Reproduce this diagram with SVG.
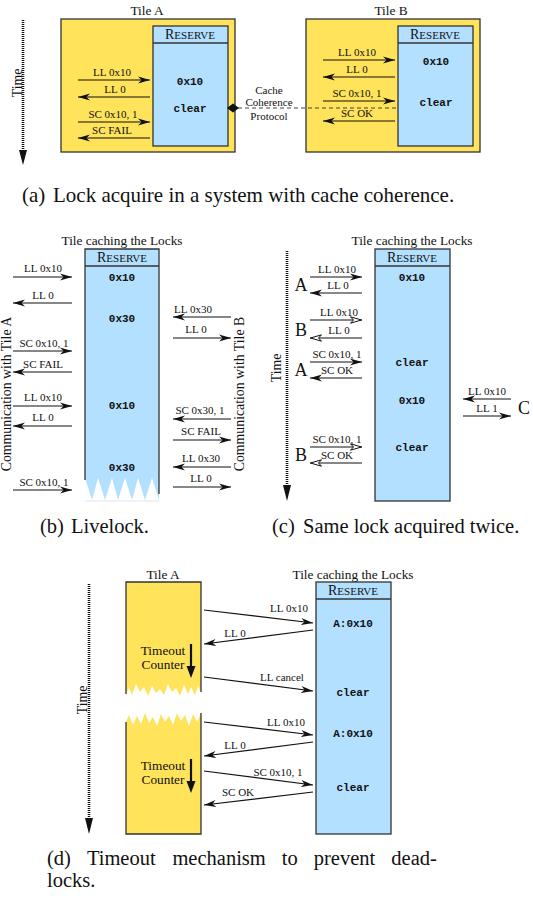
<svg xmlns="http://www.w3.org/2000/svg" width="533" height="899" viewBox="0 0 533 899">
<style>
text { font-family: "Liberation Serif", "Times New Roman", serif; fill: #111; }
.lbl { font-size: 11px; text-anchor: middle; }
.ttl { font-size: 13.3px; text-anchor: middle; }
.cap { font-size: 20.5px; }
.capa { font-size: 21px; }
.big { font-size: 18px; text-anchor: middle; }
.rot { font-size: 13.8px; text-anchor: middle; }
.mono { font-family: "Liberation Mono", "Courier New", monospace; font-weight: bold; font-size: 11px; text-anchor: middle; }
.yel { fill: #FFE35B; stroke: #333; stroke-width: 1.3; }
.blu { fill: #B3E0FF; stroke: #333; stroke-width: 1.3; }
.yfill { fill: #FFE35B; stroke: none; }
.bfill { fill: #B3E0FF; stroke: none; }
.edge { fill: none; stroke: #333; stroke-width: 1.3; }
.arr { stroke: #111; stroke-width: 1.2; fill: none; marker-end: url(#ah); }
.open { marker-end: url(#aho); }
.time { stroke: #111; stroke-width: 2.6; stroke-dasharray: 1 1; fill: none; }
.head { fill: #111; stroke: none; }
</style>
<defs>
<marker id="ah" markerUnits="userSpaceOnUse" viewBox="0 0 12 8" markerWidth="12" markerHeight="8" refX="12" refY="4" orient="auto">
<path d="M0,0.5 L12,4 L0,7.5 L3.5,4 Z" fill="#111"/>
</marker>
<marker id="aho" markerUnits="userSpaceOnUse" viewBox="0 0 12 8" markerWidth="12" markerHeight="8" refX="12" refY="4" orient="auto">
<path d="M0.5,0.8 L11.5,4 L0.5,7.2 L3.5,4 Z" fill="#fff" stroke="#111" stroke-width="1"/>
</marker>
</defs>

<!-- ================= Panel (a) ================= -->
<g id="a-time">
<line class="time" x1="23" y1="20" x2="23" y2="151"/>
<polygon class="head" points="19,150 27,150 23,165"/>
<text class="rot" transform="translate(22,83) rotate(-90)">Time</text>
</g>
<g id="a-tileA">
<text class="ttl" x="147" y="15">Tile A</text>
<rect class="yel" x="61" y="19" width="174" height="133"/>
<rect class="blu" x="153" y="26" width="75" height="120"/>
<line class="edge" x1="153" y1="43" x2="228" y2="43"/>
<text class="ttl" x="190" y="39"><tspan font-size="14">R</tspan><tspan font-size="11">ESERVE</tspan></text>
<text class="mono" x="190" y="85">0x10</text>
<text class="mono" x="190" y="112">clear</text>
</g>
<g id="a-tileB">
<text class="ttl" x="391" y="15">Tile B</text>
<rect class="yel" x="306" y="19" width="174" height="133"/>
<rect class="blu" x="398" y="26" width="75" height="120"/>
<line class="edge" x1="398" y1="43" x2="473" y2="43"/>
<text class="ttl" x="435" y="39"><tspan font-size="14">R</tspan><tspan font-size="11">ESERVE</tspan></text>
<text class="mono" x="436" y="65">0x10</text>
<text class="mono" x="436" y="106">clear</text>
</g>
<g id="a-protocol">
<text class="lbl" x="269" y="94">Cache</text>
<text class="lbl" x="269" y="105.5">Coherence</text>
<text class="lbl" x="269" y="119.5">Protocol</text>
</g>
<g id="a-connectors">
<line class="arr" x1="78" y1="80" x2="150" y2="80"/>
<line class="arr" x1="150" y1="97" x2="78" y2="97"/>
<line class="arr" x1="78" y1="122" x2="150" y2="122"/>
<line class="arr" x1="150" y1="138" x2="78" y2="138"/>
<line class="arr" x1="323" y1="60" x2="395" y2="60"/>
<line class="arr" x1="395" y1="77" x2="323" y2="77"/>
<line class="arr" x1="323" y1="101" x2="395" y2="101"/>
<line class="arr" x1="395" y1="121" x2="323" y2="121"/>
<line x1="238" y1="108" x2="396" y2="108" stroke="#444" stroke-width="1.1" stroke-dasharray="4 3"/>
<polygon points="227,108 233,103.5 239,108 233,112.5" fill="#111"/>
<text class="lbl" x="112" y="76">LL 0x10</text>
<text class="lbl" x="115" y="93">LL 0</text>
<text class="lbl" x="113" y="118">SC 0x10, 1</text>
<text class="lbl" x="112" y="134">SC FAIL</text>
<text class="lbl" x="357" y="56">LL 0x10</text>
<text class="lbl" x="357" y="73">LL 0</text>
<text class="lbl" x="357" y="97">SC 0x10, 1</text>
<text class="lbl" x="357" y="117">SC OK</text>
</g>
<text class="capa" x="22" y="202">(a)<tspan x="53">Lock acquire in a system with cache coherence.</tspan></text>

<!-- ================= Panel (b) ================= -->
<g id="b-reserve">
<text class="ttl" x="122" y="245">Tile caching the Locks</text>
<path class="bfill" d="M85,249 H159 V500 L152,478 L145,500 L138,478 L132,500 L125,478 L118,500 L112,478 L105,500 L98,478 L92,500 L85,478 Z"/>
<path class="edge" d="M85,480 V249 H159 V494"/>
<line x1="85" y1="501" x2="159" y2="501" stroke="#ddd" stroke-width="0.8"/>
<line class="edge" x1="85" y1="266" x2="159" y2="266"/>
<text class="ttl" x="122" y="262"><tspan font-size="14">R</tspan><tspan font-size="11">ESERVE</tspan></text>
<text class="mono" x="122" y="281">0x10</text>
<text class="mono" x="122" y="322">0x30</text>
<text class="mono" x="122" y="409">0x10</text>
<text class="mono" x="122" y="471">0x30</text>
</g>
<g id="b-sides">
<text class="rot" transform="translate(11,394) rotate(-90)">Communication with Tile A</text>
<text class="rot" transform="translate(244,394) rotate(-90)">Communication with Tile B</text>
</g>
<g id="b-connectors">
<line class="arr" x1="13" y1="277" x2="72" y2="277"/>
<line class="arr" x1="72" y1="303" x2="13" y2="303"/>
<line class="arr" x1="13" y1="351" x2="72" y2="351"/>
<line class="arr" x1="72" y1="372" x2="13" y2="372"/>
<line class="arr" x1="13" y1="406" x2="72" y2="406"/>
<line class="arr" x1="72" y1="426" x2="13" y2="426"/>
<line class="arr" x1="13" y1="490" x2="72" y2="490"/>
<line class="arr" x1="231" y1="317" x2="173" y2="317"/>
<line class="arr" x1="173" y1="338" x2="231" y2="338"/>
<line class="arr" x1="231" y1="419" x2="173" y2="419"/>
<line class="arr" x1="173" y1="440" x2="231" y2="440"/>
<line class="arr" x1="231" y1="467" x2="173" y2="467"/>
<line class="arr" x1="173" y1="487" x2="231" y2="487"/>
<text class="lbl" x="43" y="272">LL 0x10</text>
<text class="lbl" x="43" y="299">LL 0</text>
<text class="lbl" x="44" y="347">SC 0x10, 1</text>
<text class="lbl" x="43" y="368">SC FAIL</text>
<text class="lbl" x="43" y="401">LL 0x10</text>
<text class="lbl" x="43" y="421">LL 0</text>
<text class="lbl" x="44" y="486">SC 0x10, 1</text>
<text class="lbl" x="193" y="313">LL 0x30</text>
<text class="lbl" x="196" y="333">LL 0</text>
<text class="lbl" x="200" y="414">SC 0x30, 1</text>
<text class="lbl" x="201" y="435">SC FAIL</text>
<text class="lbl" x="201" y="462">LL 0x30</text>
<text class="lbl" x="201" y="482">LL 0</text>
</g>
<text class="cap" x="40" y="533">(b)<tspan x="71">Livelock.</tspan></text>

<!-- ================= Panel (c) ================= -->
<g id="c-time">
<line class="time" x1="287" y1="251" x2="287" y2="487"/>
<polygon class="head" points="283,485 291,485 287,501"/>
<text class="rot" transform="translate(281,368) rotate(-90)">Time</text>
</g>
<g id="c-reserve">
<text class="ttl" x="412" y="245">Tile caching the Locks</text>
<rect class="blu" x="375" y="249" width="75" height="252"/>
<line class="edge" x1="375" y1="266" x2="450" y2="266"/>
<text class="ttl" x="412" y="262"><tspan font-size="14">R</tspan><tspan font-size="11">ESERVE</tspan></text>
<text class="mono" x="412" y="281">0x10</text>
<text class="mono" x="412" y="366">clear</text>
<text class="mono" x="412" y="404">0x10</text>
<text class="mono" x="412" y="451">clear</text>
</g>
<g id="c-actors">
<text class="big" x="301" y="290.5">A</text>
<text class="big" x="301" y="335.5">B</text>
<text class="big" x="301" y="375.5">A</text>
<text class="big" x="301" y="460.5">B</text>
<text class="big" x="524" y="413.5">C</text>
</g>
<g id="c-connectors">
<line class="arr" x1="310" y1="277" x2="362" y2="277"/>
<line class="arr" x1="362" y1="293" x2="310" y2="293"/>
<line class="arr open" x1="310" y1="320" x2="362" y2="320"/>
<line class="arr open" x1="362" y1="338" x2="310" y2="338"/>
<line class="arr" x1="310" y1="362" x2="362" y2="362"/>
<line class="arr" x1="362" y1="378" x2="310" y2="378"/>
<line class="arr open" x1="310" y1="447" x2="362" y2="447"/>
<line class="arr open" x1="362" y1="463" x2="310" y2="463"/>
<line class="arr" x1="511" y1="399" x2="463" y2="399"/>
<line class="arr" x1="463" y1="416" x2="511" y2="416"/>
<text class="lbl" x="337" y="272.5">LL 0x10</text>
<text class="lbl" x="338" y="289">LL 0</text>
<text class="lbl" x="339" y="316">LL 0x10</text>
<text class="lbl" x="339" y="334">LL 0</text>
<text class="lbl" x="337" y="358">SC 0x10, 1</text>
<text class="lbl" x="337" y="374">SC OK</text>
<text class="lbl" x="337" y="443">SC 0x10, 1</text>
<text class="lbl" x="337" y="459">SC OK</text>
<text class="lbl" x="487" y="395">LL 0x10</text>
<text class="lbl" x="487" y="412">LL 1</text>
</g>
<text class="cap" x="272" y="533">(c)<tspan x="303">Same lock acquired twice.</tspan></text>

<!-- ================= Panel (d) ================= -->
<g id="d-time">
<line class="time" x1="89" y1="584" x2="89" y2="820"/>
<polygon class="head" points="85,818 93,818 89,834"/>
<text class="rot" transform="translate(87,700) rotate(-90)">Time</text>
</g>
<g id="d-tileA">
<text class="ttl" x="163" y="579">Tile A</text>
<path class="yfill" d="M126,582 H201 V692 L198,686 L195,695 L191,687 L188,694 L184,685 L180,696 L176,688 L172,692 L168,684 L164,695 L160,689 L156,693 L152,686 L148,696 L144,687 L140,692 L136,684 L132,695 L129,688 L126,694 Z"/>
<path class="edge" d="M126,694 V582 H201 V692"/>
<path class="yfill" d="M126,722 L129,715 L133,725 L137,716 L141,724 L145,713 L149,723 L153,717 L157,726 L161,714 L165,722 L169,716 L173,725 L177,713 L181,721 L185,715 L189,726 L193,714 L197,722 L201,713 V834 H126 Z"/>
<path class="edge" d="M126,722 V834 H201 V713"/>
<text class="ttl" x="163" y="655" font-size="14">Timeout</text>
<text class="ttl" x="163" y="669" font-size="14">Counter</text>
<line x1="191" y1="644" x2="191" y2="667" stroke="#111" stroke-width="2.2"/>
<polygon class="head" points="186.5,666 195.5,666 191,678"/>
<text class="ttl" x="163" y="770" font-size="14">Timeout</text>
<text class="ttl" x="163" y="784" font-size="14">Counter</text>
<line x1="191" y1="759" x2="191" y2="782" stroke="#111" stroke-width="2.2"/>
<polygon class="head" points="186.5,781 195.5,781 191,793"/>
</g>
<g id="d-reserve">
<text class="ttl" x="353" y="579">Tile caching the Locks</text>
<rect class="blu" x="316" y="582" width="75" height="252"/>
<line class="edge" x1="316" y1="599" x2="391" y2="599"/>
<text class="ttl" x="353" y="595"><tspan font-size="14">R</tspan><tspan font-size="11">ESERVE</tspan></text>
<text class="mono" x="353" y="627">A:0x10</text>
<text class="mono" x="353" y="696">clear</text>
<text class="mono" x="353" y="737">A:0x10</text>
<text class="mono" x="353" y="791">clear</text>
</g>
<g id="d-connectors">
<line class="arr" x1="204" y1="610" x2="313" y2="623"/>
<line class="arr" x1="313" y1="630" x2="204" y2="644"/>
<line class="arr" x1="204" y1="677" x2="313" y2="691"/>
<line class="arr" x1="204" y1="722" x2="313" y2="735"/>
<line class="arr" x1="313" y1="742" x2="204" y2="756"/>
<line class="arr" x1="204" y1="771" x2="313" y2="785"/>
<line class="arr" x1="313" y1="792" x2="204" y2="805"/>
<text class="lbl" x="289" y="612">LL 0x10</text>
<text class="lbl" x="235" y="637">LL 0</text>
<text class="lbl" x="282" y="681">LL cancel</text>
<text class="lbl" x="286" y="726">LL 0x10</text>
<text class="lbl" x="235" y="749">LL 0</text>
<text class="lbl" x="278" y="776">SC 0x10, 1</text>
<text class="lbl" x="238" y="796">SC OK</text>
</g>
<g id="d-caption">
<text class="cap" x="47" y="865">(d)</text>
<text class="cap" x="86.9" y="865">Timeout</text>
<text class="cap" x="172.4" y="865">mechanism</text>
<text class="cap" x="281.8" y="865">to</text>
<text class="cap" x="313.8" y="865">prevent</text>
<text class="cap" x="391.3" y="865">dead-</text>
<text class="cap" x="47" y="887">locks.</text>
</g>
</svg>
